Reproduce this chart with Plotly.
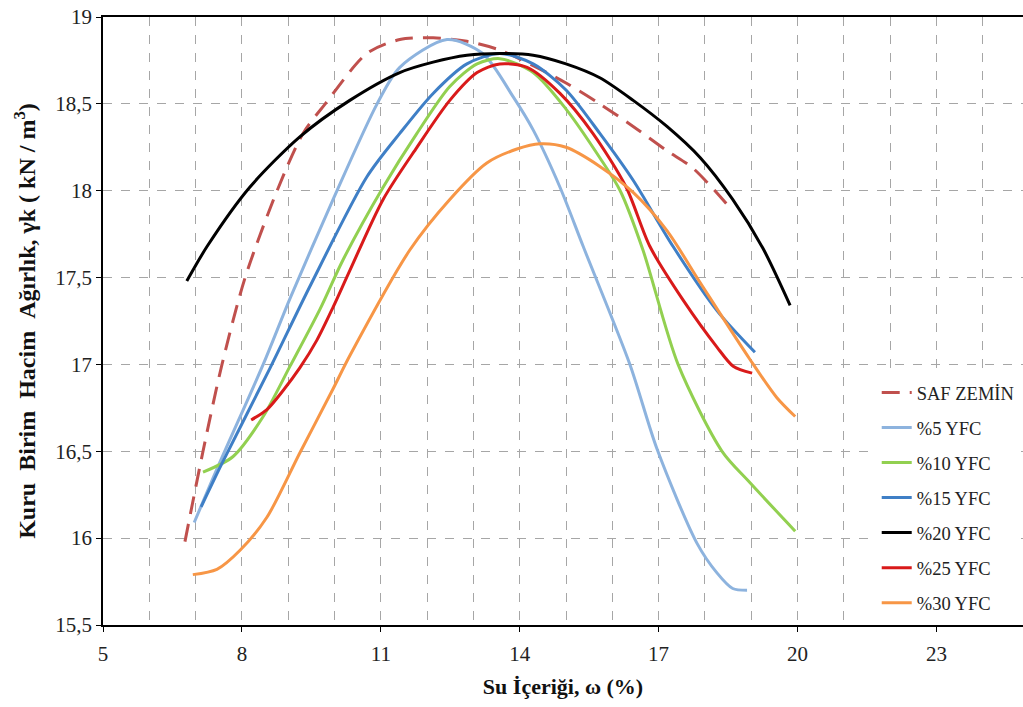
import plotly.graph_objects as go

# values (water content %, dry unit weight kN/m3)
saf_x = [6.77, 7.16, 7.57, 8.07, 8.76, 9.32, 9.8, 10.7, 11.41, 12.13, 12.86, 13.57, 14.29, 15.0, 15.73, 16.45, 17.18, 17.74, 18.48]
saf_y = [15.98, 16.5, 17.0, 17.5, 18.0, 18.33, 18.5, 18.79, 18.87, 18.88, 18.86, 18.81, 18.72, 18.62, 18.5, 18.37, 18.23, 18.13, 17.92]

yfc5_x = [6.97, 7.53, 8.46, 9.04, 9.97, 10.92, 11.41, 12.43, 13.2, 13.86, 14.29, 14.87, 15.37, 16.38, 16.97, 17.83, 18.26, 18.6, 18.91]
yfc5_y = [16.09, 16.44, 17.0, 17.38, 17.95, 18.5, 18.71, 18.87, 18.79, 18.54, 18.35, 18.02, 17.68, 17.0, 16.51, 15.97, 15.8, 15.71, 15.7]

yfc10_x = [7.16, 7.81, 8.46, 9.04, 9.69, 10.18, 11.05, 11.78, 12.49, 13.08, 13.57, 14.29, 15.0, 15.73, 16.17, 16.66, 17.42, 18.37, 18.97, 19.95]
yfc10_y = [16.38, 16.47, 16.7, 16.99, 17.32, 17.6, 18.02, 18.33, 18.6, 18.73, 18.76, 18.68, 18.47, 18.19, 18.0, 17.66, 17.0, 16.5, 16.32, 16.04]

yfc15_x = [7.12, 7.57, 8.61, 9.47, 10.7, 11.41, 12.13, 12.86, 13.57, 14.29, 15.0, 15.73, 16.45, 17.31, 18.26, 19.08]
yfc15_y = [16.18, 16.43, 16.98, 17.45, 18.08, 18.33, 18.56, 18.73, 18.79, 18.73, 18.58, 18.33, 18.06, 17.68, 17.31, 17.07]

yfc20_x = [6.81, 7.25, 8.17, 9.25, 10.33, 11.41, 12.13, 12.86, 13.57, 14.29, 15.0, 15.73, 16.45, 17.18, 17.9, 18.6, 19.25, 19.84]
yfc20_y = [17.48, 17.68, 18.02, 18.31, 18.52, 18.68, 18.74, 18.78, 18.79, 18.78, 18.73, 18.65, 18.52, 18.37, 18.19, 17.95, 17.67, 17.34]

yfc25_x = [8.2, 8.54, 8.89, 9.25, 9.62, 9.97, 10.33, 11.05, 11.78, 12.49, 13.08, 13.57, 14.16, 14.87, 15.58, 16.3, 16.81, 17.53, 18.26, 18.61, 19.02]
yfc25_y = [16.68, 16.74, 16.85, 16.98, 17.14, 17.33, 17.54, 17.95, 18.25, 18.52, 18.68, 18.73, 18.71, 18.56, 18.33, 18.02, 17.68, 17.37, 17.1, 16.99, 16.95]

yfc30_x = [6.94, 7.46, 7.96, 8.54, 9.25, 9.97, 10.33, 11.63, 12.49, 13.29, 13.94, 14.44, 15.0, 15.73, 16.45, 17.18, 17.9, 18.97, 19.55, 19.95]
yfc30_y = [15.79, 15.82, 15.93, 16.12, 16.49, 16.86, 17.05, 17.66, 17.95, 18.16, 18.24, 18.27, 18.25, 18.14, 17.99, 17.77, 17.47, 17.03, 16.81, 16.7]

series = [
    ("SAF ZEMİN", saf_x, saf_y, "#C0504D", "18px,10px"),
    ("%5 YFC", yfc5_x, yfc5_y, "#8DB3DE", "solid"),
    ("%10 YFC", yfc10_x, yfc10_y, "#92D050", "solid"),
    ("%15 YFC", yfc15_x, yfc15_y, "#3F7FC6", "solid"),
    ("%20 YFC", yfc20_x, yfc20_y, "#000000", "solid"),
    ("%25 YFC", yfc25_x, yfc25_y, "#D91A1A", "solid"),
    ("%30 YFC", yfc30_x, yfc30_y, "#F79646", "solid"),
]

fig = go.Figure()
for name, xs, ys, color, dash in series:
    fig.add_trace(
        go.Scatter(
            x=xs,
            y=ys,
            name=name,
            mode="lines",
            line=dict(color=color, width=3, dash=dash, shape="spline", smoothing=0.8),
            legendgroup=name,
        )
    )

serif = "Liberation Serif"
grid = "#A6A6A6"
sp = "\u00a0\u00a0"

fig.update_layout(
    width=1023,
    height=707,
    margin=dict(l=103, r=0, t=17, b=82),
    paper_bgcolor="white",
    plot_bgcolor="white",
    separators=", ",
    font=dict(family=serif, size=21, color="#222222"),
    legend=dict(
        x=0.841,
        y=0.413,
        xanchor="left",
        yanchor="top",
        bgcolor="white",
        font=dict(family=serif, size=18.5, color="#222222"),
        tracegroupgap=8,
    ),
    xaxis=dict(
        range=[5, 24.87],
        tick0=5,
        dtick=3,
        ticks="outside",
        ticklen=5,
        tickcolor="black",
        ticklabelstandoff=4,
        showline=True,
        linecolor="black",
        linewidth=1.5,
        mirror=True,
        showgrid=True,
        gridcolor=grid,
        griddash="dash",
        gridwidth=1,
        minor=dict(dtick=1, showgrid=True, gridcolor=grid, griddash="dash", gridwidth=1),
        zeroline=False,
        automargin=False,
        title=dict(text="<b>Su İçeriği, ω (%)</b>", font=dict(family=serif, size=22, color="#111111"), standoff=14),
    ),
    yaxis=dict(
        range=[15.5, 19],
        dtick=0.5,
        ticks="outside",
        ticklen=5,
        tickcolor="black",
        tickformat=".1~f",
        showline=True,
        linecolor="black",
        linewidth=1.5,
        showgrid=True,
        gridcolor=grid,
        griddash="dash",
        gridwidth=1,
        zeroline=False,
        automargin=False,
        title=dict(
            text=f"<b>Kuru{sp}Birim{sp}Hacim{sp}Ağırlık, γk ( kN / m<sup>3</sup>)</b>",
            font=dict(family=serif, size=24, color="#111111"),
            standoff=13,
        ),
    ),
)

# drop the browser's default 8px body margin so the figure fills the window
fig.write_html(
    "out.html",
    config={"displayModeBar": False},
    post_script="document.body.style.margin = '0';",
)
